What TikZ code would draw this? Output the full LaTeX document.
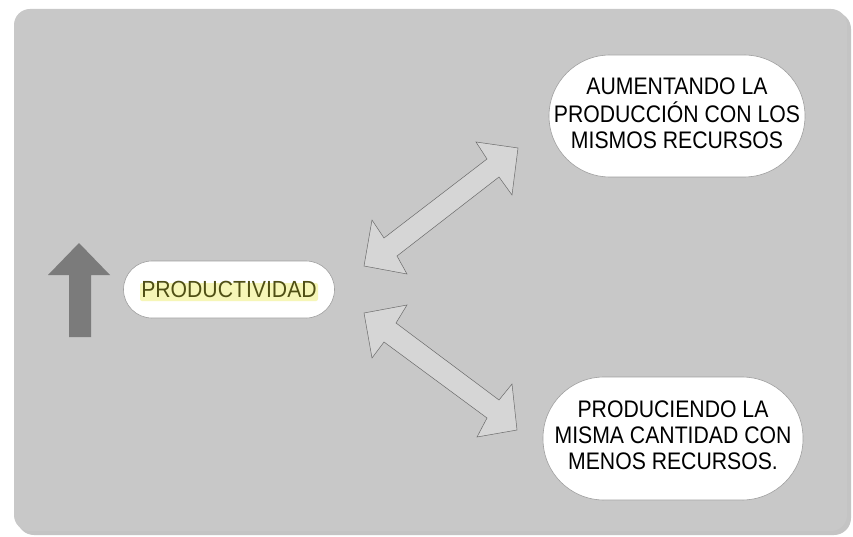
\documentclass[tikz,border=0pt]{standalone}
\usepackage{graphicx}
\usepackage{fontspec}
\setmainfont{Liberation Sans}
\definecolor{panel}{HTML}{C8C8C8}
\definecolor{panelshadow}{HTML}{ABABAB}
\definecolor{uparrow}{HTML}{7B7B7B}
\definecolor{linkfill}{HTML}{D6D6D6}
\definecolor{linkline}{HTML}{6A6A6A}
\definecolor{olive}{HTML}{4F4F14}
\definecolor{hilite}{HTML}{F4F4A6}
% three centred lines, stretched a little in height
\newcommand{\tallines}[1]{\scalebox{1.01}[1.14]{\begin{tabular}{@{}c@{}}#1\end{tabular}}}
\begin{document}
\begin{tikzpicture}[x=1pt,y=-1pt,
  bubble/.style={draw=gray!75,line width=0.6pt,fill=white,rounded corners=#1,
    align=center,inner sep=0pt,
    font=\fontsize{21}{22.6}\selectfont},
  link/.style={fill=linkfill,draw=linkline,line width=0.5pt,line join=miter}]
\useasboundingbox (0,0) rectangle (853,537);
\fill[white] (0,0) rectangle (853,537);

% panel with its drop shadow
\fill[panelshadow,opacity=0.7,rounded corners=17pt] (17,12) rectangle (851,535);
\fill[panel,rounded corners=16pt] (14,9) rectangle (847,531);

% upward arrow
\fill[uparrow] (79,243) -- (110,275) -- (91,275) -- (91,337) -- (69,337)
  -- (69,275) -- (48,275) -- cycle;

% central term
\node[bubble=28.5pt,minimum width=211pt,minimum height=57pt] (prod) at (229,289.5) {};
\fill[hilite,opacity=0.8,rounded corners=2pt] (140,283) rectangle (318,301);
\node[inner sep=0pt,font=\fontsize{21.2}{25}\selectfont,text=olive]
  (prodtxt) at (229,289) {\scalebox{1}[1.1]{PRODUCTIVIDAD}};

% outcome bubbles
\node[bubble=61pt,minimum width=256pt,minimum height=122pt] (mas) at (677,116)
  {\tallines{AUMENTANDO LA\\PRODUCCIÓN CON LOS\\MISMOS RECURSOS}};
\node[bubble=61pt,minimum width=260pt,minimum height=123pt] (menos) at (673,438.5)
  {\tallines{PRODUCIENDO LA\\MISMA CANTIDAD CON\\MENOS RECURSOS.}};

% two-way links
\draw[link] (364,266) -- (407,274) -- (397,256) -- (499,177) -- (512,195)
  -- (518,148) -- (476,142) -- (487,159) -- (384,238) -- (372,220) -- cycle;
\draw[link] (364,313) -- (407,305) -- (396,323) -- (499,400) -- (512,384)
  -- (517,430) -- (477,437) -- (487,418) -- (384,342) -- (372,358) -- cycle;
\end{tikzpicture}
\end{document}
